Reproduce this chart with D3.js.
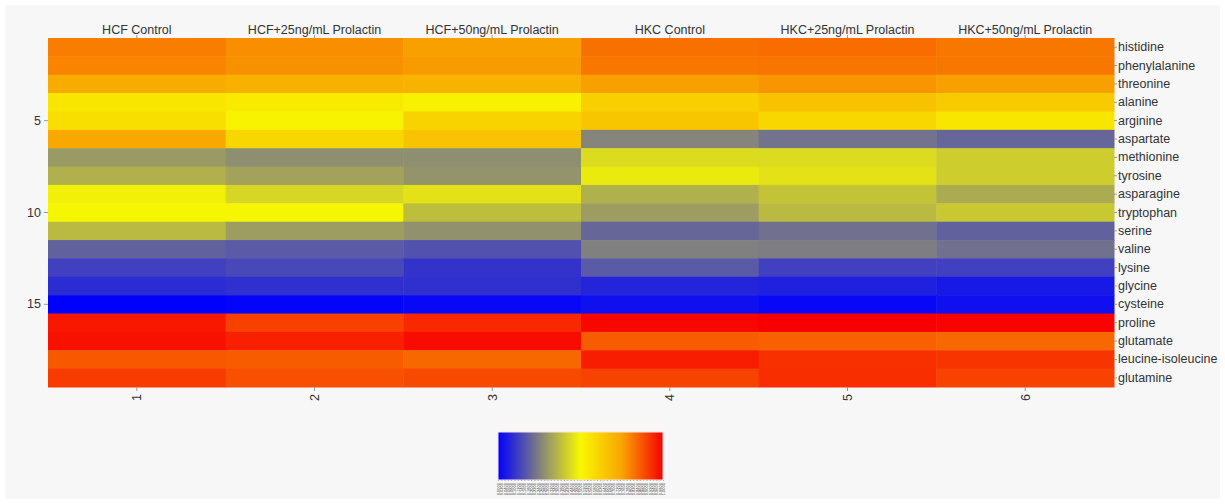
<!DOCTYPE html>
<html>
<head>
<meta charset="utf-8">
<script src="https://cdn.jsdelivr.net/npm/d3@7"></script>
<style>
  html, body { margin: 0; padding: 0; background: #ffffff; }
  svg { display: block; font-family: "Liberation Sans", Arial, sans-serif; }
</style>
</head>
<body>
<svg id="chart"></svg>
<script>
// samples (columns) and amino acids (rows)
const samples = ['HCF Control', 'HCF+25ng/mL Prolactin', 'HCF+50ng/mL Prolactin',
  'HKC Control', 'HKC+25ng/mL Prolactin', 'HKC+50ng/mL Prolactin']
const sampleIdx = ['1', '2', '3', '4', '5', '6']
const aminoAcids = ['histidine', 'phenylalanine', 'threonine', 'alanine', 'arginine',
  'aspartate', 'methionine', 'tyrosine', 'asparagine', 'tryptophan', 'serine',
  'valine', 'lysine', 'glycine', 'cysteine', 'proline', 'glutamate',
  'leucine-isoleucine', 'glutamine']
const rowTicks = [5, 10, 15]

// scaled level, one list per amino acid, columns in sample order
const histidine = [0.81, 0.785, 0.757, 0.83, 0.836, 0.82]
const phenylalanine = [0.80, 0.78, 0.765, 0.82, 0.822, 0.82]
const threonine = [0.73, 0.714, 0.71, 0.757, 0.775, 0.757]
const alanine = [0.553, 0.54, 0.52, 0.62, 0.664, 0.64]
const arginine = [0.575, 0.515, 0.61, 0.65, 0.60, 0.555]
const aspartate = [0.74, 0.60, 0.66, 0.26, 0.225, 0.20]
const methionine = [0.305, 0.28, 0.28, 0.44, 0.44, 0.41]
const tyrosine = [0.35, 0.32, 0.29, 0.47, 0.455, 0.41]
const asparagine = [0.485, 0.43, 0.455, 0.35, 0.39, 0.34]
const tryptophan = [0.495, 0.495, 0.38, 0.31, 0.37, 0.40]
const serine = [0.37, 0.31, 0.285, 0.20, 0.22, 0.19]
const valine = [0.19, 0.175, 0.16, 0.25, 0.245, 0.22]
const lysine = [0.125, 0.14, 0.10, 0.175, 0.125, 0.125]
const glycine = [0.086, 0.094, 0.094, 0.07, 0.063, 0.047]
const cysteine = [0.0, 0.008, 0.016, 0.03, 0.016, 0.03]
const proline = [0.964, 0.903, 0.94, 0.99, 1.0, 0.995]
const glutamate = [0.976, 0.952, 0.982, 0.86, 0.855, 0.842]
const leucineIsoleucine = [0.867, 0.86, 0.842, 0.958, 0.927, 0.92]
const glutamine = [0.91, 0.88, 0.89, 0.90, 0.93, 0.90]

const values = [histidine, phenylalanine, threonine, alanine, arginine, aspartate,
  methionine, tyrosine, asparagine, tryptophan, serine, valine, lysine, glycine,
  cysteine, proline, glutamate, leucineIsoleucine, glutamine]

const width = 1225
const height = 504
const plotLeft = 48
const plotRight = 1114
const plotTop = 38
const plotBottom = 387
const textColor = '#333333'

const cells = []
values.forEach((row, i) => {
  row.forEach((v, j) => cells.push({ row: aminoAcids[i], col: samples[j], value: v }))
})

const svg = d3.select('#chart').attr('width', width).attr('height', height)

// page background
svg.append('rect')
  .attr('x', 5).attr('y', 5)
  .attr('width', width - 10).attr('height', height - 10)
  .attr('fill', '#f7f7f7')

const x = d3.scaleBand().domain(samples).range([plotLeft, plotRight])
const xIdx = d3.scaleBand().domain(sampleIdx).range([plotLeft, plotRight])
const y = d3.scaleBand().domain(aminoAcids).range([plotTop, plotBottom])
const yNum = d3.scaleBand().domain(d3.range(1, aminoAcids.length + 1)).range([plotTop, plotBottom])

const color = d3.scaleLinear()
  .domain([0, 0.25, 0.5, 0.75, 1])
  .range(['#0000ff', '#808080', '#f8f800', '#f8a500', '#f80000'])

// cells
svg.append('g')
  .selectAll('rect')
  .data(cells)
  .join('rect')
  .attr('x', d => x(d.col))
  .attr('y', d => y(d.row))
  .attr('width', x.bandwidth() + 0.5)
  .attr('height', y.bandwidth() + 0.5)
  .attr('fill', d => color(d.value))

function styleAxis(g) {
  g.select('.domain').remove()
  g.selectAll('.tick line').attr('stroke', '#999999')
  g.selectAll('.tick text').attr('fill', textColor).style('font-size', '12.5px')
}

// top axis - sample names
svg.append('g')
  .attr('transform', `translate(0,${plotTop})`)
  .call(d3.axisTop(x).tickSize(3).tickPadding(1))
  .call(styleAxis)

// bottom axis - sample index
svg.append('g')
  .attr('transform', `translate(0,${plotBottom})`)
  .call(d3.axisBottom(xIdx).tickSize(4).tickPadding(3))
  .call(styleAxis)
  .call(g => g.selectAll('.tick text')
    .attr('transform', 'rotate(-90)')
    .attr('text-anchor', 'end')
    .attr('x', -7).attr('y', 0).attr('dy', '0.35em'))

// left axis - row numbers
svg.append('g')
  .attr('transform', `translate(${plotLeft},0)`)
  .call(d3.axisLeft(yNum).tickValues(rowTicks).tickSize(4).tickPadding(3))
  .call(styleAxis)

// right axis - amino acid names
svg.append('g')
  .attr('transform', `translate(${plotRight},0)`)
  .call(d3.axisRight(y).tickSize(3).tickPadding(1))
  .call(styleAxis)

// colour legend
const legLeft = 498
const legRight = 663
const legTop = 432
const legBottom = 480
const legScale = d3.scaleLinear().domain([0, 1]).range([legLeft, legRight])

const grad = svg.append('defs').append('linearGradient')
  .attr('id', 'legGrad').attr('x1', '0%').attr('x2', '100%')
grad.selectAll('stop')
  .data(color.domain())
  .join('stop')
  .attr('offset', d => `${d * 100}%`)
  .attr('stop-color', d => color(d))

svg.append('rect')
  .attr('x', legLeft).attr('y', legTop)
  .attr('width', legRight - legLeft).attr('height', legBottom - legTop)
  .attr('fill', 'url(#legGrad)')
  .attr('stroke', '#fbe3e3').attr('stroke-width', 1)

svg.append('g')
  .attr('transform', `translate(0,${legBottom})`)
  .call(d3.axisBottom(legScale).ticks(40).tickFormat(d3.format('.4f')).tickSize(1).tickPadding(1))
  .call(g => g.select('.domain').remove())
  .call(g => g.selectAll('.tick line').attr('stroke', '#aaaaaa'))
  .call(g => g.selectAll('.tick text')
    .attr('fill', '#444444').style('font-size', '4px')
    .attr('transform', 'rotate(-90)')
    .attr('text-anchor', 'end')
    .attr('x', -3).attr('y', 0).attr('dy', '0.35em'))
</script>
</body>
</html>
